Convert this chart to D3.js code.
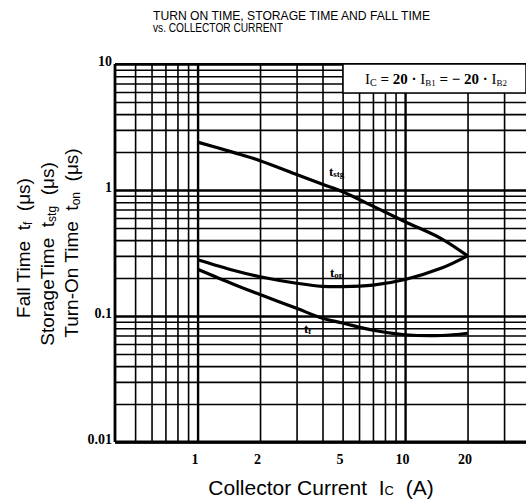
<!DOCTYPE html>
<html>
<head>
<meta charset="utf-8">
<script src="https://cdn.jsdelivr.net/npm/d3@7"></script>
<style>
  body { margin: 0; background: #fff; }
  svg { display: block; }
</style>
</head>
<body>
<div id="chart"></div>
<script>
var width = 526,
    height = 500;

// values (collector current in A, times in us)
var current = [1, 1.5, 2, 3, 4, 5, 7, 10, 15, 20];
var tStg = [2.4, 1.98, 1.71, 1.33, 1.11, 0.97, 0.745, 0.56, 0.41, 0.30];
var tOn  = [0.28, 0.23, 0.205, 0.182, 0.172, 0.171, 0.176, 0.195, 0.24, 0.30];
var tF   = [0.235, 0.178, 0.148, 0.115, 0.096, 0.088, 0.077, 0.071, 0.070, 0.073];

var xTickLabels = [1, 2, 5, 10, 20];
var yTickLabels = [0.01, 0.1, 1, 10];
var xGrid = [0.5, 0.6, 0.7, 0.8, 0.9, 1, 2, 3, 4, 5, 6, 7, 8, 9, 10, 20, 30];
var yGrid = [];
[0.01, 0.1, 1].forEach(function(d){
  for (var k = 1; k < 10; k++) yGrid.push(+(d * k).toPrecision(3));
});
yGrid.push(10);

var svg = d3.select("#chart").append("svg")
    .attr("width", width)
    .attr("height", height);

var x = d3.scaleLog().domain([0.4, 40]).range([115, 530]);
var y = d3.scaleLog().domain([0.01, 10]).range([442, 64]);

function isDecade(v){
  var l = Math.log10(v);
  return Math.abs(l - Math.round(l)) < 1e-6;
}

//
// grid
//
var gx = svg.append("g")
    .attr("transform", "translate(0," + y(0.01) + ")")
    .call(d3.axisBottom(x).tickValues(xGrid).tickSize(-(y(0.01) - y(10))).tickFormat(""));
gx.select(".domain").remove();
gx.selectAll("line")
    .attr("stroke", "#000")
    .attr("stroke-width", function(d){ return isDecade(d) ? 2.4 : 1.6; });

var gy = svg.append("g")
    .attr("transform", "translate(" + x(0.4) + ",0)")
    .call(d3.axisLeft(y).tickValues(yGrid).tickSize(-(width - x(0.4))).tickFormat(""));
gy.select(".domain").remove();
gy.selectAll("line")
    .attr("stroke", "#000")
    .attr("stroke-width", function(d){ return isDecade(d) ? 2.4 : 1.6; });

// frame
svg.append("line")
    .attr("x1", x(0.4)).attr("x2", x(0.4))
    .attr("y1", y(10)).attr("y2", y(0.01))
    .attr("stroke", "#000").attr("stroke-width", 2.8);
svg.append("line")
    .attr("x1", x(0.4)).attr("x2", width)
    .attr("y1", y(0.01)).attr("y2", y(0.01))
    .attr("stroke", "#000").attr("stroke-width", 2.8);
svg.append("line")
    .attr("x1", x(0.4)).attr("x2", width)
    .attr("y1", y(10)).attr("y2", y(10))
    .attr("stroke", "#000").attr("stroke-width", 2.2);

//
// tick labels
//
var ax = svg.append("g")
    .attr("transform", "translate(0," + y(0.01) + ")")
    .call(d3.axisBottom(x).tickValues(xTickLabels).tickSize(0).tickPadding(12)
      .tickFormat(function(d){ return d; }));
ax.select(".domain").remove();
ax.selectAll("text")
    .attr("dx", -3)
    .attr("font-family", "Liberation Serif")
    .attr("font-weight", "bold")
    .attr("font-size", "14px")
    .attr("fill", "#000");

var ay = svg.append("g")
    .attr("transform", "translate(" + (x(0.4) - 3) + ",0)")
    .call(d3.axisLeft(y).tickValues(yTickLabels).tickSize(0).tickPadding(0)
      .tickFormat(function(d){ return d; }));
ay.select(".domain").remove();
ay.selectAll("text")
    .attr("dy", "0.1em")
    .attr("font-family", "Liberation Serif")
    .attr("font-weight", "bold")
    .attr("font-size", "14px")
    .attr("fill", "#000");

//
// curves
//
var line = d3.line()
    .x(function(d){ return x(d[0]); })
    .y(function(d){ return y(d[1]); })
    .curve(d3.curveCatmullRom.alpha(0.5));

[tStg, tOn, tF].forEach(function(series){
  svg.append("path")
      .datum(current.map(function(c, i){ return [c, series[i]]; }))
      .attr("fill", "none")
      .attr("stroke", "#000")
      .attr("stroke-width", 3.2)
      .attr("d", line);
});

// curve labels
function curveLabel(px, py, main, sub){
  var t = svg.append("text")
      .attr("x", px).attr("y", py)
      .attr("font-family", "Liberation Serif")
      .attr("font-weight", "bold")
      .attr("font-size", "13px")
      .attr("fill", "#000");
  t.append("tspan").text(main);
  t.append("tspan").attr("font-size", "9px").attr("dy", 1).text(sub);
}
curveLabel(329, 176, "t", "stg");
curveLabel(330, 277, "t", "on");
curveLabel(304, 333, "t", "f");

//
// condition box
//
svg.append("rect")
    .attr("x", 343).attr("y", y(10))
    .attr("width", width - 343).attr("height", 29)
    .attr("fill", "#fff")
    .attr("stroke", "#000")
    .attr("stroke-width", 1.5);

var cond = svg.append("text")
    .attr("x", 365).attr("y", 84)
    .attr("font-family", "Liberation Serif")
    .attr("font-weight", "bold")
    .attr("font-size", "15px")
    .attr("fill", "#000");
cond.append("tspan").attr("font-weight", "normal").text("I");
cond.append("tspan").attr("font-size", "10px").attr("font-weight", "normal").attr("dy", 2).text("C");
cond.append("tspan").attr("dy", -2).text(" = 20 · ");
cond.append("tspan").attr("font-weight", "normal").text("I");
cond.append("tspan").attr("font-size", "9px").attr("font-weight", "normal").attr("dy", 2).text("B1");
cond.append("tspan").attr("dy", -2).text(" = \u2212 20 · ");
cond.append("tspan").attr("font-weight", "normal").text("I");
cond.append("tspan").attr("font-size", "9px").attr("font-weight", "normal").attr("dy", 2).text("B2");

//
// titles
//
svg.append("text")
    .attr("transform", "translate(153,20) scale(1,1.2)")
    .attr("textLength", 277).attr("lengthAdjust", "spacingAndGlyphs")
    .attr("font-family", "Liberation Sans")
    .attr("font-size", "10.5px")
    .attr("fill", "#000")
    .text("TURN ON TIME, STORAGE TIME AND FALL TIME");
svg.append("text")
    .attr("transform", "translate(153,32) scale(1,1.2)")
    .attr("textLength", 130).attr("lengthAdjust", "spacingAndGlyphs")
    .attr("font-family", "Liberation Sans")
    .attr("font-size", "10.5px")
    .attr("fill", "#000")
    .text("vs. COLLECTOR CURRENT");

var xt = svg.append("text")
    .attr("x", 321).attr("y", 495)
    .attr("text-anchor", "middle")
    .attr("font-family", "Liberation Sans")
    .attr("font-size", "21px")
    .attr("fill", "#000");
xt.append("tspan").text("Collector Current\u00a0\u00a0I");
xt.append("tspan").attr("font-size", "13px").text("C");
xt.append("tspan").text("\u00a0\u00a0(A)");

var yTitles = [
  {main: "Fall Time\u00a0\u00a0t", sub: "f", cx: 30, cy: 248},
  {main: "StorageTime\u00a0\u00a0t", sub: "stg", cx: 54, cy: 254},
  {main: "Turn-On Time\u00a0\u00a0t", sub: "on", cx: 78, cy: 243}
];
yTitles.forEach(function(d){
  var t = svg.append("text")
      .attr("transform", "translate(" + d.cx + "," + d.cy + ") rotate(-90)")
      .attr("text-anchor", "middle")
      .attr("font-family", "Liberation Sans")
      .attr("font-size", "19px")
      .attr("fill", "#000");
  t.append("tspan").text(d.main);
  t.append("tspan").attr("font-size", "12px").attr("dy", 2).text(d.sub);
  t.append("tspan").attr("dy", -2).text("\u00a0\u00a0(\u03bcs)");
});
</script>
</body>
</html>
